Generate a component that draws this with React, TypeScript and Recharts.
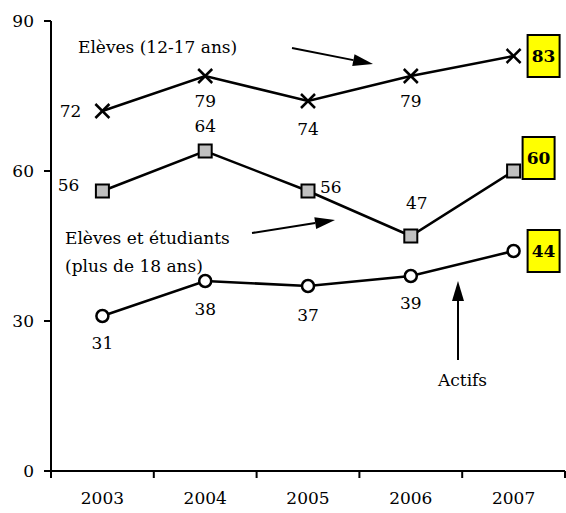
import { LineChart, Line, XAxis, YAxis, LabelList } from "recharts"

const years = [2003, 2004, 2005, 2006, 2007]
const eleves = [72, 79, 74, 79, 83]
const etudiants = [56, 64, 56, 47, 60]
const actifs = [31, 38, 37, 39, 44]
const yTicks = [0, 30, 60, 90]
const xTicks = [2002.5, 2003, 2003.5, 2004, 2004.5, 2005, 2005.5, 2006, 2006.5, 2007, 2007.5]

const data = years.map((year, i) => ({
  year,
  eleves: eleves[i],
  etudiants: etudiants[i],
  actifs: actifs[i],
}))

const FONT = '"DejaVu Serif", "Liberation Serif", "Times New Roman", serif'
const FS = 17

// label placement per point: [dx, dy, anchor]
const elevesPos: [number, number, string][] = [
  [-21, 6, "end"],
  [0, 31, "middle"],
  [0, 34, "middle"],
  [0, 31, "middle"],
  [0, 0, "box"],
]
const etudiantsPos: [number, number, string][] = [
  [-23, 0, "end"],
  [0, -19, "middle"],
  [12, 2, "start"],
  [6, -27, "middle"],
  [0, -13, "box"],
]
const actifsPos: [number, number, string][] = [
  [0, 33, "middle"],
  [0, 34, "middle"],
  [0, 35, "middle"],
  [0, 33, "middle"],
  [0, 0, "box"],
]

const makeLabel = (pos: [number, number, string][]) => (props: any) => {
  const { x, y, value, index } = props
  const [dx, dy, anchor] = pos[index]
  if (anchor === "box") {
    const bx = x + (dy !== 0 ? 9 : 14)
    const by = y + dy - 21
    return (
      <g>
        <rect x={bx} y={by} width={32} height={42} fill="#ffff00" stroke="#000" strokeWidth={2} />
        <text x={bx + 16} y={by + 27} textAnchor="middle" fontWeight="bold" style={{ fontFamily: FONT, fontSize: 17 }} fill="#000">
          {value}
        </text>
      </g>
    )
  }
  return (
    <text x={x + dx} y={y + dy} textAnchor={anchor} style={{ fontFamily: FONT, fontSize: FS }} fill="#000">
      {value}
    </text>
  )
}

const CrossDot = (props: any) => {
  const { cx, cy } = props
  const s = 7
  return (
    <g key={props.index}>
      <line x1={cx - s} y1={cy - s} x2={cx + s} y2={cy + s} stroke="#000" strokeWidth={2.5} />
      <line x1={cx - s} y1={cy + s} x2={cx + s} y2={cy - s} stroke="#000" strokeWidth={2.5} />
    </g>
  )
}

const SquareDot = (props: any) => {
  const { cx, cy } = props
  return <rect key={props.index} x={cx - 6.5} y={cy - 6.5} width={13} height={13} fill="#c0c0c0" stroke="#000" strokeWidth={2} />
}

const CircleDot = (props: any) => {
  const { cx, cy } = props
  return <circle key={props.index} cx={cx} cy={cy} r={6} fill="#fff" stroke="#000" strokeWidth={2.5} />
}

const XTick = (props: any) => {
  const { x, y, payload } = props
  const v = payload.value
  if (v % 1 !== 0) {
    return <line x1={x} y1={y - 7} x2={x} y2={y} stroke="#000" strokeWidth={2} />
  }
  return (
    <text x={x} y={y + 26} textAnchor="middle" style={{ fontFamily: FONT, fontSize: FS }} fill="#000">
      {v}
    </text>
  )
}

const Arrow = ({ x1, y1, x2, y2 }: { x1: number; y1: number; x2: number; y2: number }) => {
  const ang = Math.atan2(y2 - y1, x2 - x1)
  const len = 20
  const w = 6
  const bx = x2 - len * Math.cos(ang)
  const by = y2 - len * Math.sin(ang)
  const px = -Math.sin(ang) * w
  const py = Math.cos(ang) * w
  return (
    <g>
      <line x1={x1} y1={y1} x2={bx} y2={by} stroke="#000" strokeWidth={2} />
      <polygon points={`${x2},${y2} ${bx + px},${by + py} ${bx - px},${by - py}`} fill="#000" />
    </g>
  )
}

export default function App() {
  return (
    <div style={{ position: "absolute", left: 0, top: 0, width: 566, height: 513, background: "#fff", fontFamily: FONT }}>
      <LineChart width={566} height={513} data={data} margin={{ top: 21, right: 1, left: 0, bottom: 12 }} style={{ fontFamily: FONT }}>
        <XAxis
          dataKey="year"
          type="number"
          domain={[2002.5, 2007.5]}
          ticks={xTicks}
          interval={0}
          height={30}
          stroke="#000"
          strokeWidth={2}
          tickLine={false}
          tickSize={7}
          tickMargin={0}
          tick={XTick}
          axisLine={{ stroke: "#000", strokeWidth: 2 }}
        />
        <YAxis
          domain={[0, 90]}
          ticks={yTicks}
          width={51}
          tickSize={7}
          tickMargin={10}
          axisLine={{ stroke: "#000", strokeWidth: 2 }}
          tickLine={{ stroke: "#000", strokeWidth: 2 }}
          tick={{ fill: "#000", fontSize: FS, fontFamily: FONT, style: { fontFamily: FONT } }}
        />
        <Line dataKey="eleves" stroke="#000" strokeWidth={2.5} dot={CrossDot} isAnimationActive={false}>
          <LabelList dataKey="eleves" content={makeLabel(elevesPos)} />
        </Line>
        <Line dataKey="etudiants" stroke="#000" strokeWidth={2.5} dot={SquareDot} isAnimationActive={false}>
          <LabelList dataKey="etudiants" content={makeLabel(etudiantsPos)} />
        </Line>
        <Line dataKey="actifs" stroke="#000" strokeWidth={2.5} dot={CircleDot} isAnimationActive={false}>
          <LabelList dataKey="actifs" content={makeLabel(actifsPos)} />
        </Line>
      </LineChart>
      <svg width={566} height={513} style={{ position: "absolute", left: 0, top: 0, pointerEvents: "none", fontFamily: FONT, fontSize: FS }}>
        <g fill="#000">
          <text x={78} y={53}>Elèves (12-17 ans)</text>
          <text x={65} y={244}>Elèves et étudiants</text>
          <text x={65} y={272}>(plus de 18 ans)</text>
          <text x={438} y={386}>Actifs</text>
        </g>
        <Arrow x1={292} y1={48} x2={373} y2={64} />
        <Arrow x1={252} y1={233} x2={335} y2={220} />
        <Arrow x1={458} y1={360} x2={458} y2={281} />
      </svg>
    </div>
  )
}
